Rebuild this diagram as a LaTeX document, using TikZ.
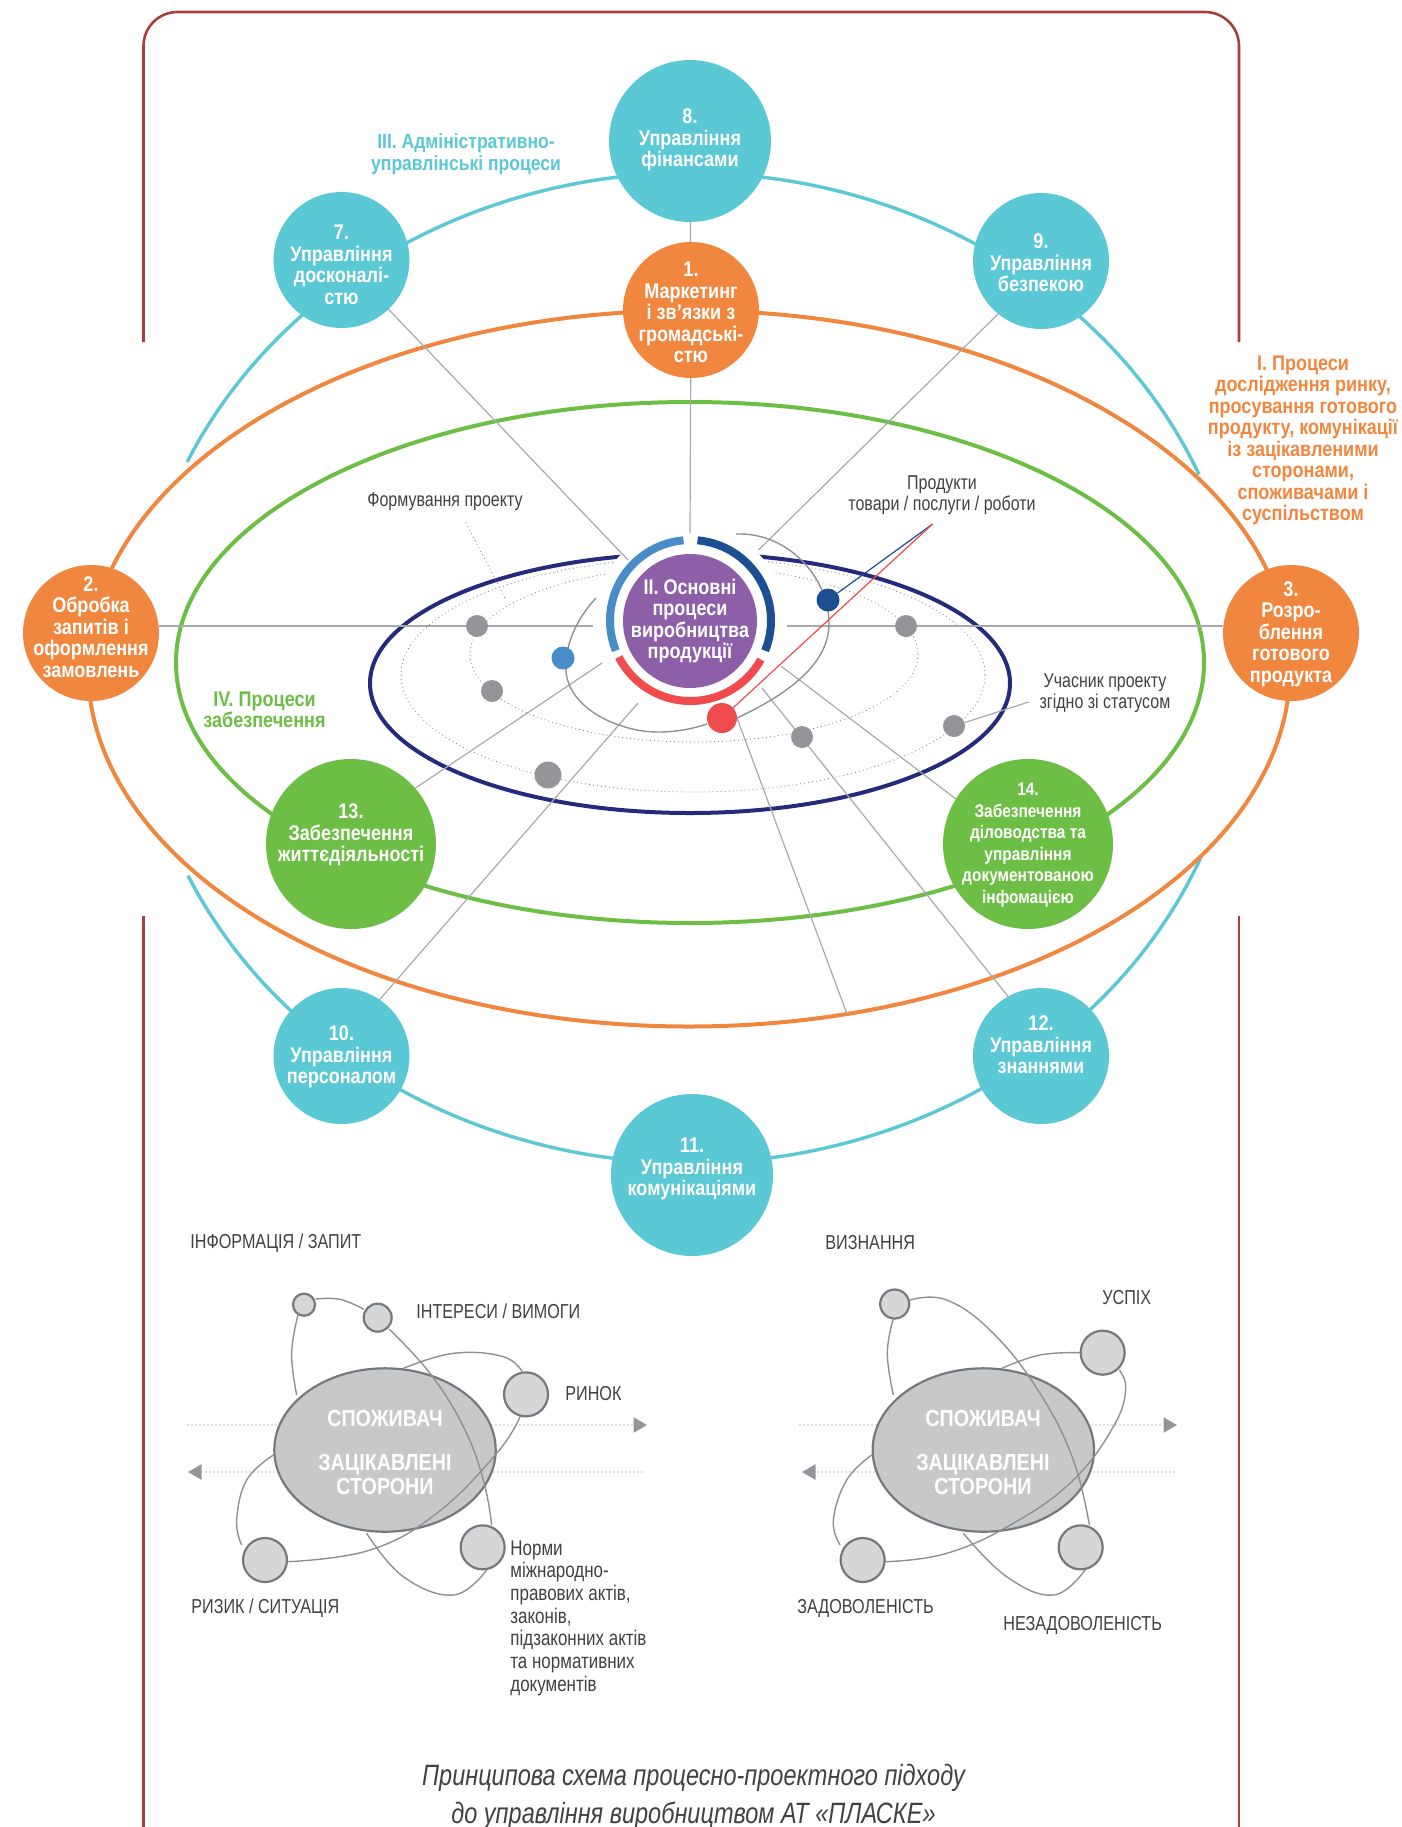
\documentclass[tikz,border=0pt]{standalone}
\usepackage{fontspec}
\setmainfont[FakeStretch=0.8,BoldFeatures={FakeStretch=0.85}]{Liberation Sans}
\usetikzlibrary{shapes.geometric,calc,arrows.meta}
\definecolor{cOrange}{HTML}{F1873F}
\definecolor{cTeal}{HTML}{5BC8D5}
\definecolor{cGreen}{HTML}{6CBE45}
\definecolor{cNavy}{HTML}{262A7C}
\definecolor{cPurple}{HTML}{8D5FA8}
\definecolor{cLBlue}{HTML}{4A8CC7}
\definecolor{cDBlue}{HTML}{1B4F91}
\definecolor{cRed}{HTML}{F04C4E}
\definecolor{cFrame}{HTML}{A5403F}
\definecolor{cDot}{HTML}{939598}
\definecolor{cLine}{HTML}{A7A9AC}
\definecolor{cTxt}{HTML}{414042}
\definecolor{cBig}{HTML}{C7C8CA}
\definecolor{cSat}{HTML}{D5D6D8}
\definecolor{cRim}{HTML}{77787B}
\tikzset{
  x=0.5pt,y=-0.5pt,
  disc/.style={circle,inner sep=0pt,outer sep=0pt,minimum size=#1},
  nt/.style={text=white,align=center,font=\fontsize{10.6}{10.75}\selectfont\bfseries,inner sep=0pt},
  nts/.style={text=white,align=center,font=\fontsize{9.1}{10.75}\selectfont\bfseries,inner sep=0pt},
  hd/.style={align=center,font=\fontsize{10.6}{10.75}\selectfont\bfseries,inner sep=0pt},
  gt/.style={text=cTxt,align=center,font=\fontsize{10}{10.75}\selectfont,inner sep=0pt},
  gl/.style={text=cTxt,align=left,anchor=west,font=\fontsize{10.1}{11.35}\selectfont,inner sep=0pt},
  glx/.style={text=cTxt,align=left,font=\fontsize{10.6}{11.35}\selectfont,inner sep=0pt},
  ray/.style={draw=cLine,line width=0.6pt},
  dots/.style={draw=cRim,line width=0.55pt,line cap=round,dash pattern=on 0pt off 2pt},
  orb/.style={draw=cLine!85!black,line width=0.7pt},
  big/.style={ellipse,draw=cRim,line width=1.1pt,fill=cBig,inner sep=0pt,outer sep=0pt,minimum width=110.7pt,minimum height=81.7pt},
  sat/.style={circle,draw=cRim,line width=1.1pt,fill=cSat,inner sep=0pt,outer sep=0pt,minimum size=#1},
  bt/.style={text=white,font=\fontsize{11.6}{12}\selectfont\bfseries,inner sep=0pt},
  tipa/.style={fill=cDot,draw=none,regular polygon,regular polygon sides=3,inner sep=0pt,outer sep=0pt,minimum size=9pt},
}
\begin{document}
\begin{tikzpicture}
\useasboundingbox (0,0) rectangle (1402,1827);
% frame
\draw[cFrame,line width=1.3pt,rounded corners=17pt] (143.5,342) -- (143.5,12) -- (1239,12) -- (1239,342);
\draw[cFrame,line width=1.3pt] (143.5,916) -- (143.5,1827);
\draw[cFrame,line width=1.3pt] (1239,916) -- (1239,1827);
% ellipses
\coordinate (ec) at (690,668);
\draw[cTeal,line width=1.7pt] ($(ec)+(23:276.5pt and 247.5pt)$) arc[start angle=23,end angle=155.4,x radius=276.5pt,y radius=247.5pt];
\draw[cTeal,line width=1.7pt] ($(ec)+(204.8:276.5pt and 247.5pt)$) arc[start angle=204.8,end angle=337.4,x radius=276.5pt,y radius=247.5pt];
\draw[cOrange,line width=2pt] (689,668.5) ellipse [x radius=601,y radius=358];
\draw[cGreen,line width=2pt] (690,662.5) ellipse [x radius=514,y radius=260.5];
\draw[dots] (693,675) ellipse [x radius=292,y radius=117];
\draw[dots] (694,654.5) ellipse [x radius=224,y radius=87.5];
\draw[cNavy,line width=2pt] (690,683.3) ellipse [x radius=320,y radius=129.7];
\node[disc=96pt,fill=white] (hole) at (690,621) {};
% free ends
\coordinate (c7) at (628,560);
\coordinate (c9) at (758.5,550);
\coordinate (c8) at (690,533);
\coordinate (cL) at (593,626);
\coordinate (cR) at (787,626);
\coordinate (c13) at (602,663);
\coordinate (c10) at (638,703);
\coordinate (c12) at (762,688);
\coordinate (c14) at (781,666);
\coordinate (cB) at (847,1014);
\coordinate (pj) at (932.6,524);
\coordinate (form1) at (466,523);
\coordinate (form2) at (506,600);
\coordinate (uch) at (1028.6,702);
% nodes
\node[disc=81pt,fill=cTeal] (n8) at (690,141) {};
\node[disc=68pt,fill=cOrange] (n1) at (691,310) {};
\node[disc=68pt,fill=cTeal] (n7) at (341.5,260) {};
\node[disc=68pt,fill=cTeal] (n9) at (1041,261) {};
\node[disc=68pt,fill=cOrange] (n2) at (91,633) {};
\node[disc=68pt,fill=cOrange] (n3) at (1291,633) {};
\node[disc=85pt,fill=cGreen] (n13) at (351,844) {};
\node[disc=85pt,fill=cGreen] (n14) at (1028,844) {};
\node[disc=68pt,fill=cTeal] (n10) at (341.5,1056) {};
\node[disc=68pt,fill=cTeal] (n12) at (1041,1056) {};
\node[disc=81pt,fill=cTeal] (n11) at (692,1175) {};
% rays
\draw[ray] (n7) -- (c7);
\draw[ray] (n9.231) -- (c9);
\draw[ray] (n8) -- (n1);
\draw[ray] (n1) -- (c8);
\draw[ray] (n2.east |- cL) -- (cL);
\draw[ray] (cR) -- (n3.west |- cR);
\draw[ray] (n13.41.7) -- (c13);
\draw[ray] (n10.56.5) -- (c10);
\draw[ray] (n12.119) -- (c12);
\draw[ray] (n14.148) -- (c14);
\draw[dots] (form1) -- (form2);
% orbit
\draw[orb] (736,534) .. controls (790,532) and (830,580) .. (829,625) .. controls (828,670) and (775,700) .. (737,718);
\draw[orb] (707,724) .. controls (680,733) and (650,735) .. (625,727) .. controls (585,715) and (564,690) .. (566,665) .. controls (566,640) and (580,615) .. (596,598);
% dots
\node[disc=11pt,fill=cDot] (d1) at (477,626) {};
\node[disc=11pt,fill=cDot] (d2) at (492,691) {};
\node[disc=13.5pt,fill=cDot] (d3) at (548,775) {};
\node[disc=11pt,fill=cDot] (d4) at (802,737) {};
\node[disc=11pt,fill=cDot] (d5) at (906,626) {};
\node[disc=11pt,fill=cDot] (d6) at (954,726) {};
\node[disc=11.5pt,fill=cLBlue] (dl) at (563,658) {};
\node[disc=11.5pt,fill=cDBlue] (dd) at (828,600) {};
\node[disc=15pt,fill=cRed] (dr) at (722,718) {};
\draw[ray] (dr.east) -- (cB);
\draw[ray] (d6) -- (uch);
% centre
\node[disc=67pt,fill=cPurple] (core) at (690,621) {};
\coordinate (c0) at (690.5,620.5);
\draw[cDBlue,line width=4pt] ($(c0)+(85:40.25pt)$) arc[start angle=85,end angle=-22,radius=40.25pt];
\draw[cLBlue,line width=4pt] ($(c0)+(95:40.25pt)$) arc[start angle=95,end angle=202,radius=40.25pt];
\draw[cRed,line width=4pt] ($(c0)+(-29:40.25pt)$) arc[start angle=-29,end angle=-153,radius=40.25pt];
% product lines
\draw[cDBlue,line width=0.6pt] (dd) -- (pj);
\draw[cRed,line width=0.6pt] (dr) -- (pj);
% texts
\node[nt] (t8) at (690,140) {8.\\Управління\\фінансами};
\node[nt] (t1) at (691,312.5) {1.\\Маркетинг\\і зв’язки з\\громадські-\\стю};
\node[nt] (t7) at (341.5,265) {7.\\Управління\\досконалі-\\стю};
\node[nt] (t9) at (1041,263) {9.\\Управління\\безпекою};
\node[nt] (t2) at (91,627) {2.\\Обробка\\запитів і\\оформлення\\замовлень};
\node[nt] (t3) at (1291,634) {3.\\Розро-\\блення\\готового\\продукта};
\node[nt] (t13) at (351,835) {13.\\Забезпечення\\життєдіяльності};
\node[nts] (t14) at (1028,845) {14.\\Забезпечення\\діловодства та\\управління\\документованою\\інфомацією};
\node[nt] (t10) at (341.5,1057) {10.\\Управління\\персоналом};
\node[nt] (t12) at (1041,1045) {12.\\Управління\\знаннями};
\node[nt] (t11) at (692,1169) {11.\\Управління\\комунікаціями};
\node[nt] (tc) at (690,621) {II. Основні\\процеси\\виробництва\\продукції};
\node[hd,text=cTeal,font=\fontsize{10.3}{10.75}\selectfont\bfseries] (h3) at (466,154) {III. Адміністративно-\\управлінські процеси};
\node[hd,text=cOrange] (h1) at (1303,440.5) {I. Процеси\\дослідження ринку,\\просування готового\\продукту, комунікації\\із зацікавленими\\сторонами,\\споживачами і\\суспільством};
\node[hd,text=cGreen] (h4) at (264.5,710) {IV. Процеси\\забезпечення};
\node[gt] (g1) at (445,502) {Формування проекту};
\node[gt] (g2) at (942,495) {Продукти\\товари / послуги / роботи};
\node[gt] (g3) at (1105,693) {Учасник проекту\\згідно зі статусом};
% lower left
\draw[dots] (188,1425) -- (633,1425);
\node[tipa,shape border rotate=-90] (al1) at (638,1425) {};
\draw[dots] (202,1472) -- (643,1472);
\node[tipa,shape border rotate=90] (al2) at (197,1472) {};
\begin{scope}[shift={(170,1220)},x=0.16667pt,y=-0.16667pt]
\node[big] (bl) at (645,690) {};
\node[sat=11pt] (a1) at (402,254) {};
\node[sat=14pt] (a2) at (623,293) {};
\node[sat=22pt] (a3) at (1068,523) {};
\node[sat=22pt] (a4) at (938,982) {};
\node[sat=22pt] (a5) at (285,1020) {};
\draw[orb] plot[smooth,tension=0.7] coordinates {(380,525) (365,400) (385,280)};
\draw[orb] plot[smooth,tension=0.7] coordinates {(437,237) (510,238) (582,268)};
\draw[orb] plot[smooth,tension=0.7] coordinates {(658,328) (780,460) (880,620) (940,780) (965,915)};
\draw[orb] plot[smooth,tension=0.7] coordinates {(950,1050) (850,1125) (700,1070) (590,940)};
\draw[orb] plot[smooth,tension=0.7] coordinates {(700,445) (850,400) (1000,410) (1060,460)};
\draw[orb] plot[smooth,tension=0.7] coordinates {(1050,590) (980,700) (800,880) (600,990) (355,1025)};
\draw[orb] plot[smooth,tension=0.7] coordinates {(215,975) (200,900) (230,780) (310,705)};
\end{scope}
\node[bt] (s1) at (385,1418) {СПОЖИВАЧ};
\node[bt] (s2) at (385,1465) {ЗАЦІКАВЛЕНІ};
\node[bt] (s3) at (385,1486) {СТОРОНИ};
\node[gl] (l1) at (190,1243) {ІНФОРМАЦІЯ / ЗАПИТ};
\node[gl] (l2) at (416,1311) {ІНТЕРЕСИ / ВИМОГИ};
\node[gl] (l3) at (565,1394) {РИНОК};
\node[gl] (l4) at (191,1608) {РИЗИК / СИТУАЦІЯ};
\node[glx,anchor=north west] (l5) at (510,1540) {Норми\\міжнародно-\\правових актів,\\законів,\\підзаконних актів\\та нормативних\\документів};
% lower right
\draw[dots] (800,1425) -- (1163,1425);
\node[tipa,shape border rotate=-90] (ar1) at (1168,1425) {};
\draw[dots] (814,1472) -- (1177,1472);
\node[tipa,shape border rotate=90] (ar2) at (811,1472) {};
\begin{scope}[shift={(780,1220)},x=0.16667pt,y=-0.16667pt]
\node[big] (br) at (610,690) {};
\node[sat=14.5pt] (b1) at (344,252) {};
\node[sat=22pt] (b2) at (968,398) {};
\node[sat=22pt] (b3) at (902,982) {};
\node[sat=22pt] (b4) at (248,1020) {};
\draw[orb] plot[smooth,tension=0.7] coordinates {(340,525) (322,400) (340,295)};
\draw[orb] plot[smooth,tension=0.7] coordinates {(390,240) (500,240) (640,340) (780,520) (880,720) (928,915)};
\draw[orb] plot[smooth,tension=0.7] coordinates {(915,1050) (820,1125) (680,1070) (550,940)};
\draw[orb] plot[smooth,tension=0.7] coordinates {(665,445) (780,405) (900,398)};
\draw[orb] plot[smooth,tension=0.7] coordinates {(1018,450) (1037,510) (1000,620) (880,780) (700,910) (500,1000) (315,1025)};
\draw[orb] plot[smooth,tension=0.7] coordinates {(180,975) (160,900) (200,780) (275,705)};
\end{scope}
\node[bt] (r1) at (983,1418) {СПОЖИВАЧ};
\node[bt] (r2) at (983,1465) {ЗАЦІКАВЛЕНІ};
\node[bt] (r3) at (983,1486) {СТОРОНИ};
\node[gl] (m1) at (825,1243) {ВИЗНАННЯ};
\node[gl] (m2) at (1102,1298) {УСПІХ};
\node[gl] (m3) at (797,1608) {ЗАДОВОЛЕНІСТЬ};
\node[gl] (m4) at (1003,1625) {НЕЗАДОВОЛЕНІСТЬ};
% caption
\node[text=cTxt,align=center,inner sep=0pt,font=\fontsize{14.7}{18.7}\selectfont\itshape] (cap) at (693.5,1797) {Принципова схема процесно-проектного підходу\\до управління виробництвом АТ «ПЛАСКЕ»};
\end{tikzpicture}
\end{document}
